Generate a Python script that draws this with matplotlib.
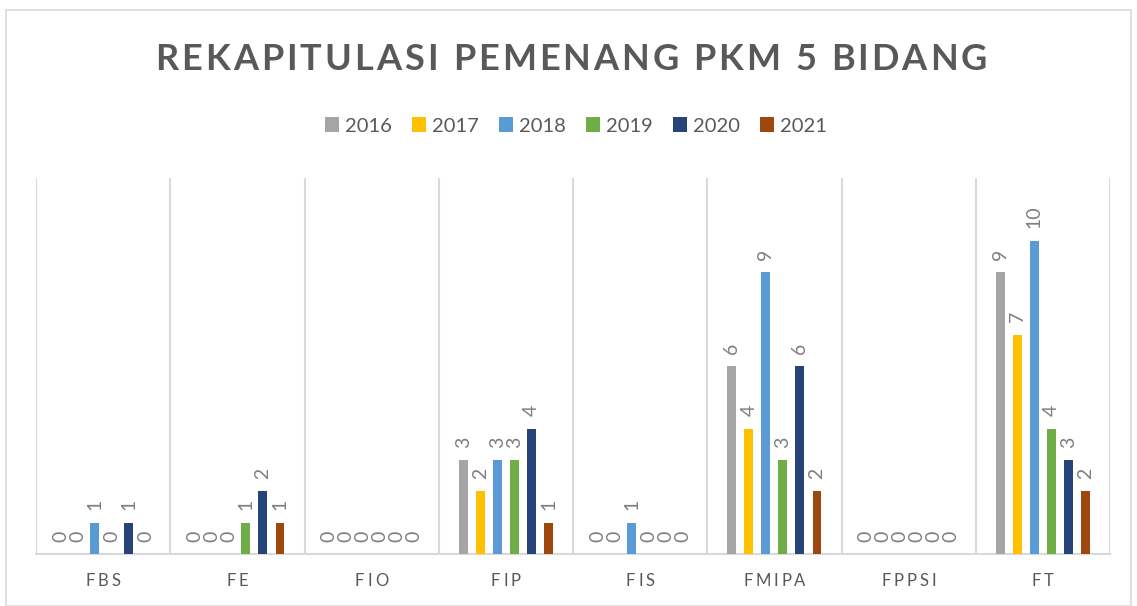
import numpy as np
import matplotlib
matplotlib.use("Agg")
import matplotlib.pyplot as plt
from matplotlib.patches import Rectangle

# data
fakultas = ["FBS", "FE", "FIO", "FIP", "FIS", "FMIPA", "FPPSI", "FT"]
tahun = ["2016", "2017", "2018", "2019", "2020", "2021"]
v2016 = [0, 0, 0, 3, 0, 6, 0, 9]
v2017 = [0, 0, 0, 2, 0, 4, 0, 7]
v2018 = [1, 0, 0, 3, 1, 9, 0, 10]
v2019 = [0, 1, 0, 3, 0, 3, 0, 4]
v2020 = [1, 2, 0, 4, 0, 6, 0, 3]
v2021 = [0, 1, 0, 1, 0, 2, 0, 2]
series = [v2016, v2017, v2018, v2019, v2020, v2021]
warna = ["#A5A5A5", "#FFC000", "#5B9BD5", "#70AD47", "#264478", "#9E480E"]

plt.rcParams['font.family'] = ['Lato', 'DejaVu Sans']

W, H = 1137, 606
fig = plt.figure(figsize=(W / 100, H / 100), dpi=100)

# chart border
fig.patches.append(Rectangle((6 / W, 0), (1131 - 6) / W, (H - 10) / H,
                             transform=fig.transFigure, fill=False,
                             edgecolor="#d9d9d9", lw=1.2))

ax = fig.add_axes([36 / W, (H - 554) / H, (1110 - 36) / W, (554 - 178) / H])

x = np.arange(len(fakultas))
step = 0.127
bw = 0.067
for i, (vals, c) in enumerate(zip(series, warna)):
    pos = x + (i - 2.5) * step
    ax.bar(pos, vals, width=bw, color=c, label=tahun[i], zorder=3)
    for p, v in zip(pos, vals):
        ax.annotate(str(v), (p, v), xytext=(0, 9), textcoords="offset points",
                    rotation=90, ha="center", va="bottom", fontsize=14,
                    color="#7f7f7f")

ax.set_xlim(-0.5, len(fakultas) - 0.5)
ax.set_ylim(0, 12)
ax.set_yticks([])
ax.set_xticks([])
for b in np.arange(-0.5, len(fakultas), 1.0):
    ax.axvline(b, color="#d9d9d9", lw=1.5, zorder=1)
for s in ["top", "right", "left"]:
    ax.spines[s].set_visible(False)
ax.spines["bottom"].set_color("#d9d9d9")
ax.spines["bottom"].set_linewidth(1.5)


def spaced_text(s, cx, cy, spacing, **kw):
    # draw string char by char with extra letter spacing, centered at cx (px)
    r = fig.canvas.get_renderer()
    objs = []
    widths = []
    for ch in s:
        t = fig.text(0, cy / H, ch, ha="left", va="center", **kw)
        w = t.get_window_extent(renderer=r).width
        if ch == " ":
            t2 = fig.text(0, 0, "a a", **kw)
            t3 = fig.text(0, 0, "aa", **kw)
            w = t2.get_window_extent(renderer=r).width - t3.get_window_extent(renderer=r).width
            t2.remove()
            t3.remove()
        objs.append(t)
        widths.append(w)
    total = sum(widths) + spacing * (len(s) - 1)
    xx = cx - total / 2
    for t, w in zip(objs, widths):
        t.set_x(xx / W)
        xx += w + spacing


spaced_text("REKAPITULASI PEMENANG PKM 5 BIDANG", 571, H - 60, 3.0,
            fontsize=26, fontweight="bold", color="#595959")

for i, f in enumerate(fakultas):
    cx = 36 + (i + 0.5) * (1110 - 36) / len(fakultas)
    spaced_text(f, cx, H - 581, 3.0, fontsize=12, color="#595959")

fig.legend(loc="center", bbox_to_anchor=(576 / W, (H - 126) / H), ncol=6,
           frameon=False, fontsize=14.5, handlelength=0.7, handleheight=0.7,
           handletextpad=0.3, columnspacing=1.0, labelcolor="#595959")

fig.savefig("out.png", dpi=100)
